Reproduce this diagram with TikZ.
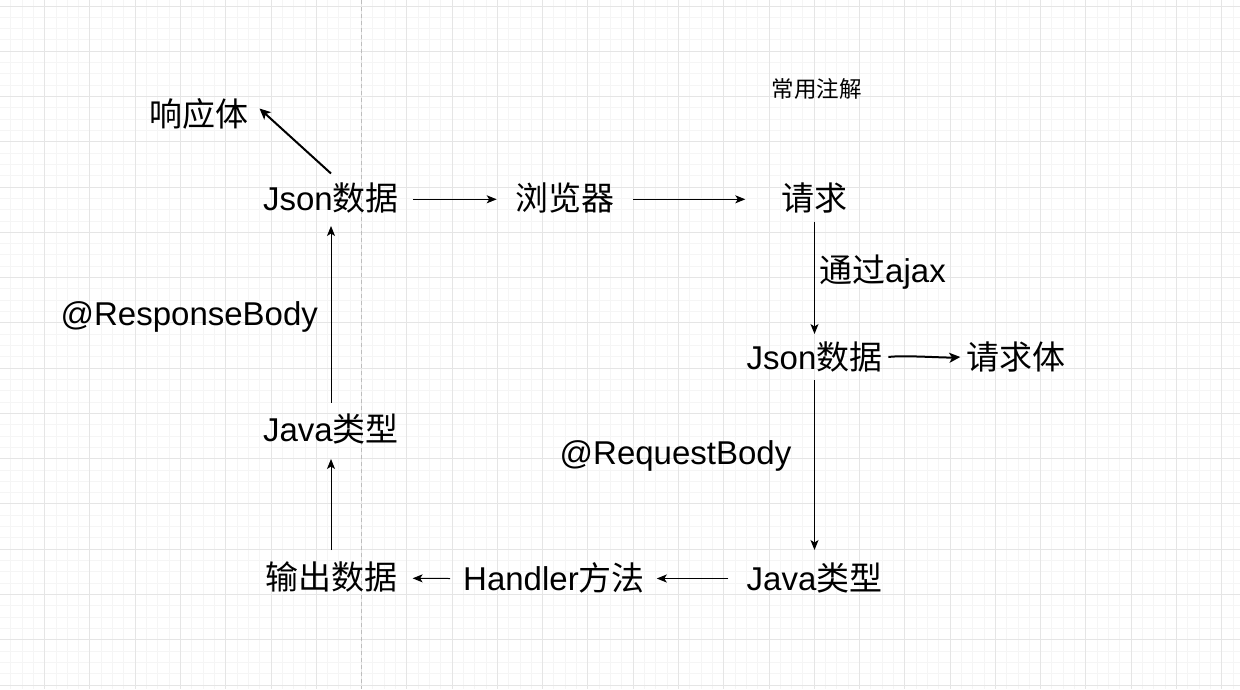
\documentclass[tikz,border=0pt]{standalone}
\usepackage{fontspec}
\setmainfont{Liberation Sans}
\newfontfamily\cjk{Noto Sans CJK SC}
\usetikzlibrary{arrows.meta,calc}
\newcommand\zh[1]{{\cjk #1}}
\definecolor{gridminor}{HTML}{F5F5F5}
\definecolor{gridmajor}{HTML}{E5E5E5}
\definecolor{guide}{HTML}{BDBDBD}
\tikzset{
  lbl/.style={inner sep=0pt, outer sep=0pt, text height=19pt, text depth=0pt,
              font=\fontsize{33}{39}\selectfont},
  small/.style={inner sep=0pt, outer sep=0pt, font=\fontsize{22.5}{27}\selectfont},
  arr/.style={line width=1pt, -{Stealth[length=10pt,width=8pt,inset=2.5pt]}},
  thickarr/.style={line width=2pt, -{Stealth[length=11pt,width=10pt,inset=2.8pt]}}
}
\begin{document}
\begin{tikzpicture}[x=1pt,y=-1pt]
\useasboundingbox (0,0) rectangle (1240,689);
\fill[white] (0,0) rectangle (1240,689);
% grid
\foreach \k in {-3,...,105} {\draw[gridminor, line width=1pt] ({44.7+11.3175*\k},0) -- ({44.7+11.3175*\k},689);}
\foreach \k in {0,...,60} {\draw[gridminor, line width=1pt] (0,{6+11.3175*\k}) -- (1240,{6+11.3175*\k});}
\foreach \m in {0,...,26} {\draw[gridmajor, line width=1pt] ({44.7+45.27*\m},0) -- ({44.7+45.27*\m},689);}
\foreach \m in {0,...,15} {\draw[gridmajor, line width=1pt] (0,{6+45.27*\m}) -- (1240,{6+45.27*\m});}
% guide
\draw[guide, line width=1pt, dash pattern=on 4pt off 3pt] (361.3,0) -- (361.3,689);

% nodes
\node[lbl] (resp) at (198.5,117) {\zh{响应体}};
\node[lbl] (jt) at (331,200.5) {Json\zh{数据}};
\node[lbl] (br) at (565,200.5) {\zh{浏览器}};
\node[lbl] (rq) at (814.5,200.5) {\zh{请求}};
\node[small] (anno) at (816.7,88.5) {\zh{常用注解}};
\node[lbl] (ajax) at (882.5,272.7) {\zh{通过}ajax};
\node[lbl] (jr) at (814.5,359.5) {Json\zh{数据}};
\node[lbl] (rqb) at (1015.8,359.5) {\zh{请求体}};
\node[lbl] (reqbody) at (675.5,454.7) {@RequestBody};
\node[lbl] (respbody) at (189.3,316.3) {@ResponseBody};
\node[lbl] (jl) at (331,431.5) {Java\zh{类型}};
\node[lbl] (jvr) at (814.5,580.5) {Java\zh{类型}};
\node[lbl] (hd) at (554,580.5) {Handler\zh{方法}};
\node[lbl] (out) at (331,580) {\zh{输出数据}};

% connectors
\draw[thickarr] ([yshift=17.5pt]jt.north) -- ([xshift=11.5pt,yshift=8.5pt]resp.east);
\draw[arr] ([xshift=14pt,yshift=1.2pt]jt.east) -- ([xshift=-18.8pt,yshift=1.2pt]br.west);
\draw[arr] ([xshift=18.8pt,yshift=1.2pt]br.east) -- ([xshift=-36.2pt,yshift=1.2pt]rq.west);
\draw[arr] ([yshift=-11.7pt]rq.south) -- ([yshift=16pt]jr.north);
\draw[thickarr] ([xshift=6pt,yshift=2.5pt]jr.east) .. controls +(15,-2) and +(-15,1) .. ([xshift=-6pt,yshift=2.5pt]rqb.west);
\draw[arr] ([yshift=-11pt]jr.south) -- ([yshift=21pt]jvr.north);
\draw[arr] ([xshift=-18.2pt,yshift=2pt]jvr.west) -- ([xshift=12pt,yshift=2pt]hd.east);
\draw[arr] ([xshift=-13pt,yshift=2pt]hd.west) -- ([xshift=15.6pt,yshift=1.7pt]out.east);
\draw[arr] ([yshift=20.5pt]out.north) -- ([yshift=-18pt]jl.south);
\draw[arr] ([yshift=19.3pt]jl.north) -- ([yshift=-16pt]jt.south);
\end{tikzpicture}
\end{document}
